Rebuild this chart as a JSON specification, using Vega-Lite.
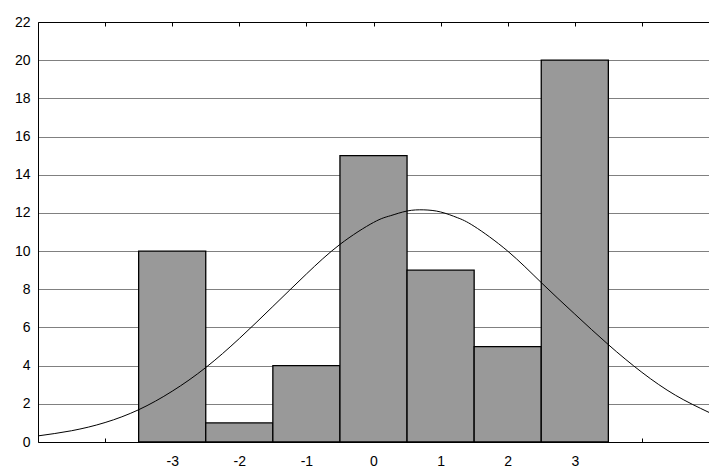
{
  "$schema": "https://vega.github.io/schema/vega-lite/v6.json",
  "autosize": {"type": "none"},
  "padding": {"left": 38, "top": 22, "right": 0, "bottom": 25},
  "width": 671,
  "height": 420,
  "background": "white",
  "config": {
    "view": {"stroke": null},
    "axis": {"labelFont": "Liberation Sans", "labelFontSize": 14, "labelColor": "#000", "domainColor": "#000", "tickColor": "#000", "titleFontSize": 0}
  },
  "datasets": {
    "bars": [
      {"bin": -3, "start": -3.5, "end": -2.5, "count": 10},
      {"bin": -2, "start": -2.5, "end": -1.5, "count": 1},
      {"bin": -1, "start": -1.5, "end": -0.5, "count": 4},
      {"bin": 0, "start": -0.5, "end": 0.5, "count": 15},
      {"bin": 1, "start": 0.5, "end": 1.5, "count": 9},
      {"bin": 2, "start": 1.5, "end": 2.5, "count": 5},
      {"bin": 3, "start": 2.5, "end": 3.5, "count": 20}
    ],
    "curve": [
      {"x": -5, "y": 0.32}, {"x": -4.5, "y": 0.59}, {"x": -4, "y": 1.02}, {"x": -3.5, "y": 1.69},
      {"x": -3, "y": 2.66}, {"x": -2.5, "y": 3.9}, {"x": -2, "y": 5.42}, {"x": -1.5, "y": 7.1},
      {"x": -1, "y": 8.8}, {"x": -0.5, "y": 10.35}, {"x": 0, "y": 11.5}, {"x": 0.25, "y": 11.85},
      {"x": 0.5, "y": 12.1}, {"x": 0.75, "y": 12.16}, {"x": 1, "y": 12.05}, {"x": 1.25, "y": 11.75},
      {"x": 1.5, "y": 11.3}, {"x": 2, "y": 10.0}, {"x": 2.5, "y": 8.35},
      {"x": 3, "y": 6.7}, {"x": 3.5, "y": 5.1}, {"x": 4, "y": 3.65}, {"x": 4.5, "y": 2.45},
      {"x": 5, "y": 1.55}
    ]
  },
  "resolve": {"axis": {"x": "independent"}},
  "layer": [
    {
      "data": {"name": "bars"},
      "mark": {"type": "bar", "fill": "#999999", "stroke": "#000", "strokeWidth": 1.3},
      "encoding": {
        "x": {
          "field": "start", "type": "quantitative", "title": null,
          "scale": {"domain": [-5, 5], "nice": false, "zero": false},
          "axis": {"orient": "bottom", "values": [-4, -3, -2, -1, 0, 1, 2, 3, 4], "labelExpr": "abs(datum.value) == 4 ? '' : (datum.value < 0 ? '-' + abs(datum.value) : '' + datum.value)", "tickSize": -4, "grid": false, "domain": true, "labelPadding": 16, "labelFlush": false, "labelFontSize": 14, "labelFont": "Liberation Sans"}
        },
        "x2": {"field": "end"},
        "y": {
          "field": "count", "type": "quantitative", "title": null,
          "scale": {"domain": [0, 22], "nice": false},
          "axis": {"values": [0, 2, 4, 6, 8, 10, 12, 14, 16, 18, 20, 22], "ticks": false, "labelPadding": 8, "grid": true, "gridColor": "#000", "gridDash": [1, 1], "gridWidth": 1, "gridOpacity": 1, "labelFlush": false, "labelOverlap": false, "labelFontSize": 14, "labelFont": "Liberation Sans"}
        },
        "y2": {"datum": 0}
      }
    },
    {
      "data": {"name": "curve"},
      "mark": {"type": "line", "color": "#000", "strokeWidth": 1, "interpolate": "natural"},
      "encoding": {
        "x": {"field": "x", "type": "quantitative", "title": null,
          "axis": {"orient": "top", "values": [-4, -3, -2, -1, 0, 1, 2, 3, 4], "tickSize": -4, "labels": false, "domain": true, "grid": false}},
        "y": {"field": "y", "type": "quantitative", "title": null,
          "axis": {"values": [0, 2, 4, 6, 8, 10, 12, 14, 16, 18, 20, 22], "ticks": false, "labelPadding": 8, "grid": true, "gridColor": "#000", "gridDash": [1, 1], "gridWidth": 1, "gridOpacity": 1, "labelFlush": false, "labelOverlap": false, "labelFontSize": 14, "labelFont": "Liberation Sans"}}
      }
    }
  ]
}
